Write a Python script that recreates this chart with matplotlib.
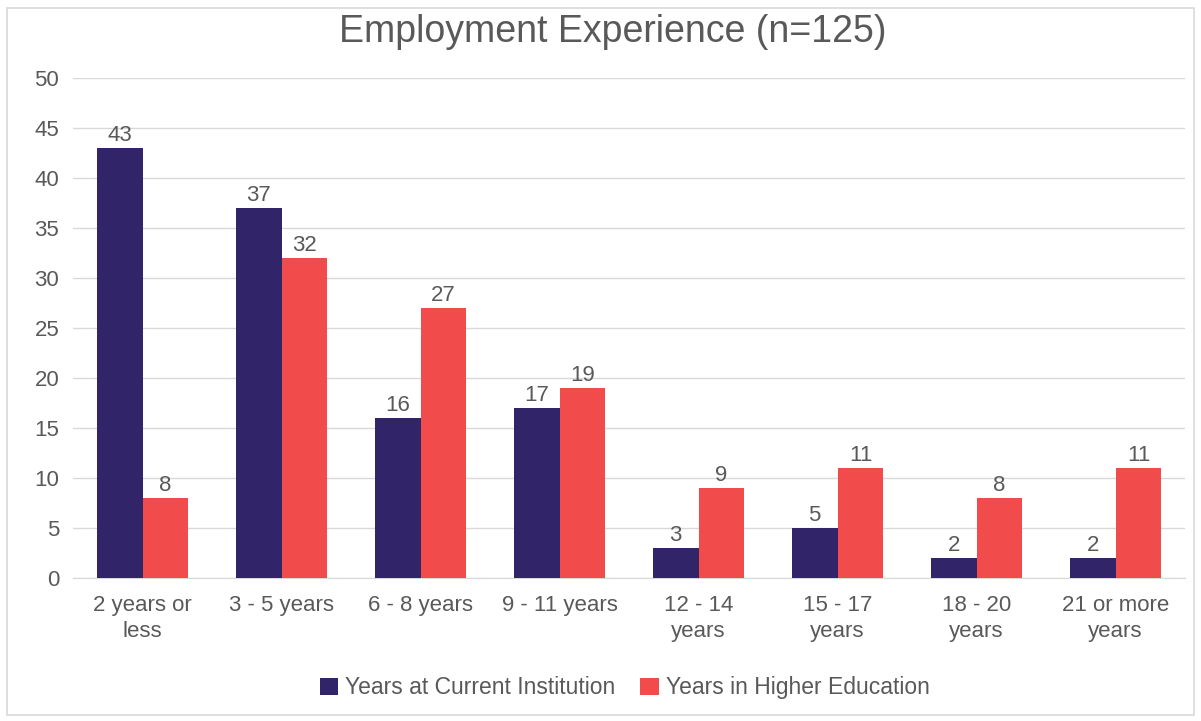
import matplotlib.pyplot as plt
import numpy as np
from matplotlib.patches import Rectangle

plt.rcParams['font.family'] = ['Liberation Sans', 'DejaVu Sans']

categories = ["2 years or\nless", "3 - 5 years", "6 - 8 years", "9 - 11 years",
              "12 - 14\nyears", "15 - 17\nyears", "18 - 20\nyears", "21 or more\nyears"]
current_inst = [43, 37, 16, 17, 3, 5, 2, 2]
higher_ed = [8, 32, 27, 19, 9, 11, 8, 11]
series_names = ["Years at Current Institution", "Years in Higher Education"]

navy = '#312468'
red = '#F24B4B'
txt = '#595959'
fs = 16

fig = plt.figure(figsize=(12.01, 7.21), dpi=100)
ax = fig.add_axes([0.0608, 0.1983, 0.9259, 0.6935])

# light border round the chart
fig.patches.append(Rectangle((0.006, 0.008), 0.988, 0.981, transform=fig.transFigure,
                             fill=False, edgecolor='#d9d9d9', lw=1.2))

x = np.arange(len(categories))
w = 0.33
b1 = ax.bar(x - w/2, current_inst, w, color=navy, label=series_names[0], zorder=3)
b2 = ax.bar(x + w/2, higher_ed, w, color=red, label=series_names[1], zorder=3)

for bars in (b1, b2):
    for r in bars:
        ax.text(r.get_x() + r.get_width()/2, r.get_height() + 0.2, f"{int(r.get_height())}",
                ha='center', va='bottom', fontsize=fs, color=txt)

ax.set_xlim(-0.5, len(categories) - 0.5)
ax.set_ylim(0, 50)
ax.set_yticks(range(0, 51, 5))
ax.grid(axis='y', color='#d9d9d9', lw=1, zorder=0)
for s in ['top', 'right', 'left']:
    ax.spines[s].set_visible(False)
ax.spines['bottom'].set_color('#d9d9d9')
ax.tick_params(length=0, labelsize=fs, colors=txt)
ax.tick_params(axis='y', pad=10)
ax.tick_params(axis='x', pad=12)
ax.set_xticks(x)
ax.set_xticklabels(categories, linespacing=1.35)

fig.text(0.51, 0.955, "Employment Experience (n=125)", ha='center', va='center',
         fontsize=27, color=txt)

fig.legend(loc='center', bbox_to_anchor=(0.52, 0.046), ncol=2, frameon=False,
           fontsize=16.5, labelcolor=txt, handlelength=0.8, handleheight=0.8,
           handletextpad=0.3, columnspacing=1.1)

fig.savefig('out.png', dpi=100)
